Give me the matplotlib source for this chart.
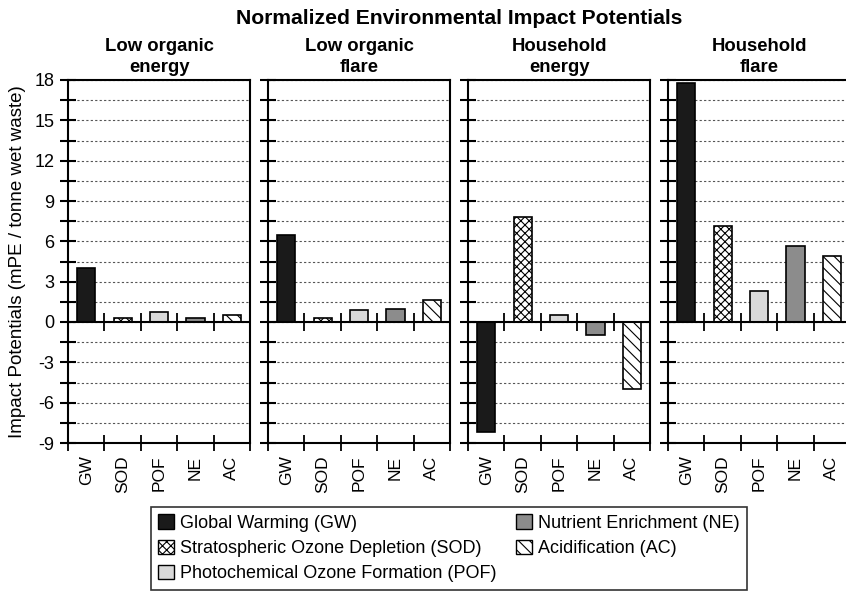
import numpy as np
import matplotlib.pyplot as plt
from matplotlib.patches import Patch

plt.rcParams['font.family'] = ['Liberation Sans', 'DejaVu Sans']
plt.rcParams['hatch.linewidth'] = 0.8
plt.rcParams['axes.unicode_minus'] = False

# data
scenarios = ["Low organic\nenergy", "Low organic\nflare", "Household\nenergy", "Household\nflare"]
categories = ["GW", "SOD", "POF", "NE", "AC"]
legend_names = ["Global Warming (GW)", "Stratospheric Ozone Depletion (SOD)",
                "Photochemical Ozone Formation (POF)", "Nutrient Enrichment (NE)",
                "Acidification (AC)"]
low_organic_energy = [4.0, 0.3, 0.75, 0.3, 0.55]
low_organic_flare = [6.5, 0.3, 0.9, 1.0, 1.6]
household_energy = [-8.2, 7.8, 0.55, -0.97, -5.0]
household_flare = [17.8, 7.15, 2.3, 5.65, 4.9]
values = [low_organic_energy, low_organic_flare, household_energy, household_flare]

# styling per category
facecolors = ["#1a1a1a", "white", "#d9d9d9", "#8c8c8c", "white"]
hatches = [None, "xxxx", None, None, "\\\\\\"]

fig = plt.figure(figsize=(8.46, 5.94), dpi=100)
W, H = 846.0, 594.0

x = np.arange(len(categories))
bounds = np.arange(len(categories) + 1) - 0.5

for i, (name, vals) in enumerate(zip(scenarios, values)):
    left = (68 + 200 * i) / W
    ax = fig.add_axes([left, 1 - 443 / H, 182 / W, 363 / H])
    for j, v in enumerate(vals):
        ax.bar(x[j], v, width=0.5, color=facecolors[j], edgecolor="black",
               linewidth=1.2, hatch=hatches[j], zorder=2)
    ax.set_xlim(-0.5, 4.5)
    ax.set_ylim(-9, 18)
    ax.axhline(0, color="black", lw=1.5, zorder=3)
    ax.vlines(bounds[1:-1], -0.65, 0.65, color="black", lw=1.3, zorder=3)

    ax.set_yticks(np.arange(-9, 19, 3))
    ax.set_yticks(np.arange(-7.5, 18, 3), minor=True)
    ax.grid(axis="y", which="both", linestyle=(0, (2, 2)), color="#555555", lw=0.8, zorder=1)
    ax.tick_params(axis="y", which="both", direction="inout", length=11.5, width=1.5,
                   labelsize=13, pad=4)
    if i > 0:
        ax.tick_params(axis="y", labelleft=False)

    ax.set_xticks(x)
    ax.set_xticklabels(categories, rotation=90, fontsize=12.5)
    ax.set_xticks(bounds, minor=True)
    ax.tick_params(axis="x", which="major", length=0, pad=9)
    ax.tick_params(axis="x", which="minor", direction="inout", length=12, width=1.3)

    for sp in ax.spines.values():
        sp.set_linewidth(1.5)
    ax.set_title(name, fontweight="bold", fontsize=13.3, pad=6, linespacing=1.25)

fig.text(459 / W, 1 - 18 / H, "Normalized Environmental Impact Potentials",
         ha="center", va="center", fontweight="bold", fontsize=15.2)
fig.text(18 / W, 1 - 262 / H, "Impact Potentials (mPE / tonne wet waste)",
         rotation=90, ha="center", va="center", fontsize=13.5)

handles = [Patch(facecolor=facecolors[j], edgecolor="black", hatch=hatches[j])
           for j in range(len(categories))]
leg = fig.legend(handles, legend_names, ncol=2, loc="upper center",
                 bbox_to_anchor=(449 / W, 1 - 507 / H), fontsize=13,
                 frameon=True, fancybox=False, edgecolor="black",
                 handlelength=0.85, handleheight=0.85, handletextpad=0.35,
                 columnspacing=1.1, borderpad=0.4, labelspacing=0.44,
                 borderaxespad=0)
leg.get_frame().set_linewidth(1.2)

fig.savefig("out.png", dpi=100)
